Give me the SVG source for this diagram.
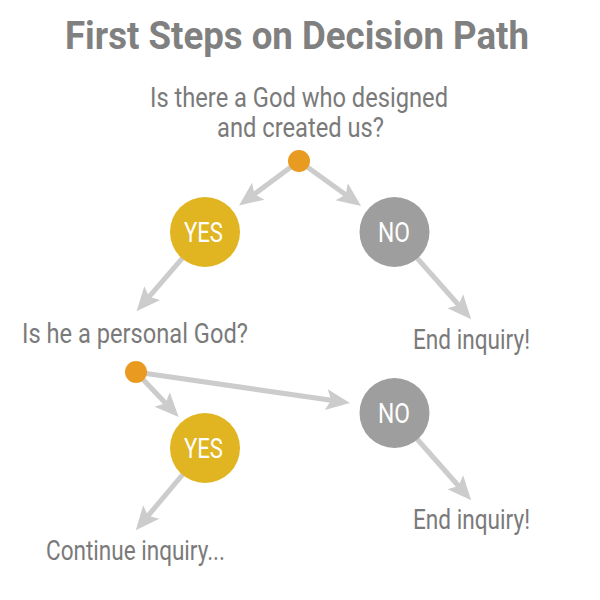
<svg xmlns="http://www.w3.org/2000/svg" width="600" height="600" viewBox="0 0 600 600">
<style>
.t{font-family:Roboto,"Liberation Sans",sans-serif;fill:#7a7a7a;font-size:27px}
.title{font-family:Roboto,"Liberation Sans",sans-serif;fill:#808080;font-size:38px;font-weight:bold}
.lbl{font-family:Roboto,"Liberation Sans",sans-serif;fill:#ffffff;font-size:28px}
.c{stroke:#cccccc;stroke-width:5;fill:none;marker-end:url(#ah)}
.yes{fill:#e0b521}
.no{fill:#9e9e9e}
.dot{fill:#e99b21}
</style>
<defs>
<marker id="ah" markerUnits="userSpaceOnUse" markerWidth="24" markerHeight="22" viewBox="0 0 24 22" refX="5" refY="11" orient="auto" overflow="visible">
<path d="M0,0.5 L24,11 L0,21.5 L5,11 Z" fill="#cccccc"/>
</marker>
</defs>
<rect width="600" height="600" fill="#ffffff"/>
<text class="title" x="65" y="49" textLength="464" lengthAdjust="spacingAndGlyphs">First Steps on Decision Path</text>
<text class="t" x="150" y="107" textLength="298" lengthAdjust="spacingAndGlyphs">Is there a God who designed</text>
<text class="t" x="217" y="137" textLength="167" lengthAdjust="spacingAndGlyphs">and created us?</text>
<g id="connectors">
<path class="c" d="M299,161 L254.3,194.2"/>
<path class="c" d="M299,161 L345.7,194.8"/>
<path class="c" d="M205,232 L149,296.8"/>
<path class="c" d="M394,232 L458.6,305"/>
<path class="c" d="M136,372 L331.2,400.3"/>
<path class="c" d="M136,372 L165.6,403.2"/>
<path class="c" d="M205,448 L148,515.8"/>
<path class="c" d="M394,413 L458.6,486"/>
</g>
<g id="dot1"><circle class="dot" cx="299" cy="161" r="11"/></g>
<g id="yes1"><circle class="yes" cx="205" cy="232" r="35"/><text class="lbl" x="184" y="242" textLength="39" lengthAdjust="spacingAndGlyphs">YES</text></g>
<g id="no1"><circle class="no" cx="394.5" cy="232" r="35"/><text class="lbl" x="378" y="242" textLength="32" lengthAdjust="spacingAndGlyphs">NO</text></g>
<g id="q2"><text class="t" x="22" y="343" textLength="226" lengthAdjust="spacingAndGlyphs">Is he a personal God?</text></g>
<g id="end1"><text class="t" x="413" y="349" textLength="117" lengthAdjust="spacingAndGlyphs">End inquiry!</text></g>
<g id="dot2"><circle class="dot" cx="136" cy="372" r="11"/></g>
<g id="yes2"><circle class="yes" cx="205" cy="448" r="35"/><text class="lbl" x="184" y="458" textLength="39" lengthAdjust="spacingAndGlyphs">YES</text></g>
<g id="no2"><circle class="no" cx="394.5" cy="413" r="35"/><text class="lbl" x="378" y="423" textLength="32" lengthAdjust="spacingAndGlyphs">NO</text></g>
<g id="end2"><text class="t" x="413" y="529" textLength="117" lengthAdjust="spacingAndGlyphs">End inquiry!</text></g>
<g id="cont"><text class="t" x="46" y="560" textLength="179" lengthAdjust="spacingAndGlyphs">Continue inquiry...</text></g>
</svg>
